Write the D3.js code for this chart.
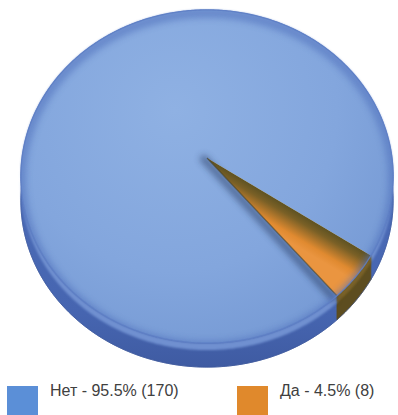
<!DOCTYPE html>
<html>
<head>
<meta charset="utf-8">
<script src="https://cdn.jsdelivr.net/npm/d3@7"></script>
<style>
  html, body { margin: 0; padding: 0; background: #fff; overflow: hidden; }
  svg { display: block; }
</style>
</head>
<body>
<svg id="chart" width="398" height="415"></svg>
<script>
// Answers: category names, counts, percentages and series colours
const categories = ["Нет", "Да"];
const counts = [170, 8];
const percents = [95.5, 4.5];
const seriesColors = ["#5b8fd7", "#e0892c"];

const svg = d3.select("#chart");
const defs = svg.append("defs");

// Tilted disc seen in perspective
const cx = 207, cy = 158;          // projected centre of the disc
const k = 185;                     // disc radius in px
const tilt = 27.2 * Math.PI / 180; // camera tilt from top-down
const cosT = Math.cos(tilt), sinT = Math.sin(tilt);
const dist = 9 * sinT;             // camera distance (disc radii)
const wallDrop = 24;               // visible height of the side wall
const lipDrop = 7;                 // light bevel strip under the top face

// angle: pie angle (0 = 12 o'clock, clockwise); r: 0..1 of the radius
function project(angle, r) {
  const u = r * Math.sin(angle);
  const w = -r * Math.cos(angle);
  const f = dist / (dist - w * sinT);
  return [cx + k * u * f, cy + k * w * cosT * f];
}
function rim(a0, a1) {
  const n = Math.max(2, Math.ceil(Math.abs(a1 - a0) / 0.01));
  return d3.range(n + 1).map(i => project(a0 + (a1 - a0) * i / n, 1));
}
const closed = d3.line().curve(d3.curveLinearClosed);

const pie = d3.pie().sort(null)
  .startAngle(140 * Math.PI / 180)
  .endAngle(500 * Math.PI / 180);
const slices = pie(counts).map((d, i) => ({
  ...d,
  name: categories[i],
  color: seriesColors[i]
}));

// --- filters & gradients ---
const blur3 = defs.append("filter").attr("id", "blur3")
  .attr("x", "-20%").attr("y", "-20%").attr("width", "140%").attr("height", "140%");
blur3.append("feGaussianBlur").attr("stdDeviation", 3);
const blur1 = defs.append("filter").attr("id", "blur1");
blur1.append("feGaussianBlur").attr("stdDeviation", 0.8);

const faceGrad = defs.append("radialGradient").attr("id", "faceBlue")
  .attr("gradientUnits", "userSpaceOnUse")
  .attr("cx", 175).attr("cy", 110).attr("r", 270);
faceGrad.append("stop").attr("offset", 0).attr("stop-color", "#8fb1e3");
faceGrad.append("stop").attr("offset", 0.6).attr("stop-color", "#83a6dd");
faceGrad.append("stop").attr("offset", 1).attr("stop-color", "#7498d3");

const wallGrad = defs.append("linearGradient").attr("id", "wallBlue")
  .attr("x1", 0).attr("y1", 0).attr("x2", 0).attr("y2", 1);
wallGrad.append("stop").attr("offset", 0).attr("stop-color", "#5374c0");
wallGrad.append("stop").attr("offset", 0.85).attr("stop-color", "#4665b0");
wallGrad.append("stop").attr("offset", 1).attr("stop-color", "#3f5ba2");

// orange face: dark along its upper cut edge, bright towards the lower one
const orange = slices[1];
const pA = [cx, cy];
const pB = project(orange.startAngle, 1);
const pC = project(orange.endAngle, 1);
const ex = pB[0] - pA[0], ey = pB[1] - pA[1];
const el = Math.hypot(ex, ey);
const nx = -ey / el, ny = ex / el; // normal pointing into the slice
const orangeGrad = defs.append("linearGradient").attr("id", "faceOrange")
  .attr("gradientUnits", "userSpaceOnUse")
  .attr("x1", pA[0]).attr("y1", pA[1])
  .attr("x2", pA[0] + nx * 30).attr("y2", pA[1] + ny * 30);
orangeGrad.append("stop").attr("offset", 0).attr("stop-color", "#5e5222");
orangeGrad.append("stop").attr("offset", 0.25).attr("stop-color", "#7a6026");
orangeGrad.append("stop").attr("offset", 0.75).attr("stop-color", "#e08a30");
orangeGrad.append("stop").attr("offset", 1).attr("stop-color", "#ea9540");

const wallColor = i => i === 0 ? "url(#wallBlue)" : "#5d4d20";
const lipColor = i => i === 0 ? "#6f90d0" : "#7a6228";
const faceColor = i => i === 0 ? "url(#faceBlue)" : "url(#faceOrange)";

const pieG = svg.append("g");

// side wall
pieG.selectAll("path.wall").data(slices).join("path")
  .attr("class", "wall")
  .attr("d", d => {
    const top = rim(d.startAngle, d.endAngle);
    const bottom = top.map(p => [p[0], p[1] + wallDrop]).reverse();
    return closed(top.concat(bottom));
  })
  .attr("fill", d => wallColor(d.index))
  .attr("stroke", d => wallColor(d.index))
  .attr("stroke-width", 0.8);

// bottom outline of the wall
pieG.append("path")
  .attr("d", closed(rim(0, 2 * Math.PI).map(p => [p[0], p[1] + wallDrop])))
  .attr("fill", "none").attr("stroke", "#3a5597").attr("stroke-width", 1)
  .attr("opacity", 0.6);

// bevel strip just under the top face
pieG.selectAll("path.lip").data(slices).join("path")
  .attr("class", "lip")
  .attr("d", d => {
    const top = rim(d.startAngle, d.endAngle);
    const bottom = top.map(p => [p[0], p[1] + lipDrop]).reverse();
    return closed(top.concat(bottom));
  })
  .attr("fill", d => lipColor(d.index))
  .attr("filter", "url(#blur1)");

// top face of the big slice
pieG.append("path")
  .attr("d", closed([pA].concat(rim(slices[0].startAngle, slices[0].endAngle))))
  .attr("fill", faceColor(0));

// soft shadow cast along the lower cut edge of the small slice
const sh = 4;
pieG.append("path")
  .attr("d", d3.line()([[pA[0] - 3, pA[1] + 1], [pC[0] - sh, pC[1] + sh * 0.3]]))
  .attr("stroke", "#22345c").attr("stroke-width", 8)
  .attr("stroke-linecap", "round")
  .attr("opacity", 0.5)
  .attr("filter", "url(#blur3)");

// top face of the small slice
pieG.append("path")
  .attr("d", closed([pA].concat(rim(orange.startAngle, orange.endAngle))))
  .attr("fill", faceColor(1));
pieG.append("path")
  .attr("d", d3.line()([pA, pC]))
  .attr("stroke", "#3c3a22").attr("stroke-width", 1.2).attr("opacity", 0.6);

// darkening inside the rim of the whole top face
const faceOutline = closed(rim(0, 2 * Math.PI));
defs.append("clipPath").attr("id", "faceClip")
  .append("path").attr("d", faceOutline);
pieG.append("g").attr("clip-path", "url(#faceClip)")
  .append("path")
  .attr("d", faceOutline)
  .attr("transform", "translate(0,3)")
  .attr("fill", "none")
  .attr("stroke", "#4f70bb")
  .attr("stroke-width", 10)
  .attr("opacity", 0.55)
  .attr("filter", "url(#blur3)");
pieG.append("path")
  .attr("d", faceOutline)
  .attr("fill", "none")
  .attr("stroke", "#5d7ec4")
  .attr("stroke-width", 1.3)
  .attr("opacity", 0.85);

// legend
const legendX = d3.scaleOrdinal().domain(categories).range([7, 237]);
const legend = svg.append("g").selectAll("g").data(slices).join("g")
  .attr("transform", d => `translate(${legendX(d.name)},386)`);
legend.append("rect")
  .attr("width", 31).attr("height", 31)
  .attr("fill", d => d.color);
legend.append("text")
  .attr("x", 43).attr("y", 10)
  .attr("font-family", "'Liberation Sans', Arial, sans-serif")
  .attr("font-size", 16)
  .attr("fill", "#404040")
  .text(d => `${d.name} - ${percents[d.index]}% (${d.value})`);
</script>
</body>
</html>
